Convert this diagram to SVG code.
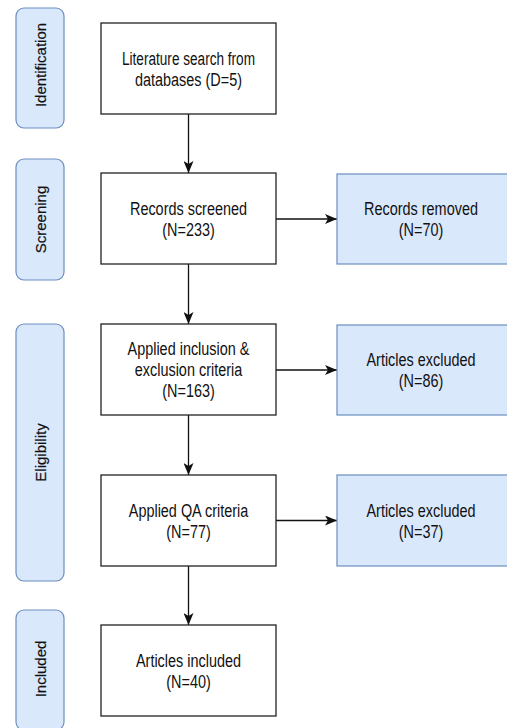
<svg xmlns="http://www.w3.org/2000/svg" width="507" height="728" viewBox="0 0 507 728">
<style>
.lane{fill:#dae8fc;stroke:#6c8ebf;stroke-width:1.2}
.box{fill:#ffffff;stroke:#222222;stroke-width:1.3}
.rbox{fill:#dae8fc;stroke:#6c8ebf;stroke-width:1.2}
.t{font-family:"Liberation Sans",Arial,sans-serif;font-size:19px;fill:#111111;text-anchor:middle}
.lt{font-family:"Liberation Sans",Arial,sans-serif;font-size:15px;fill:#111111;text-anchor:middle;stroke:#111111;stroke-width:0.2}
.c{stroke:#111111;stroke-width:1.3;fill:none;marker-end:url(#arr)}
</style>
<defs>
<marker id="arr" markerUnits="userSpaceOnUse" viewBox="0 0 12 10" refX="12" refY="5" markerWidth="12" markerHeight="10" orient="auto">
<path d="M0,0 L12,5 L0,10 L3,5 Z" fill="#111111"/>
</marker>
</defs>
<rect width="507" height="728" fill="#ffffff"/>
<g id="lane-identification">
<rect class="lane" x="16" y="8" width="48" height="120" rx="8"/>
<text class="lt" transform="translate(40 65) rotate(-90)" y="5.5">Identification</text>
</g>
<g id="lane-screening">
<rect class="lane" x="16" y="159" width="48" height="121" rx="8"/>
<text class="lt" transform="translate(40 219.5) rotate(-90)" y="5.5">Screening</text>
</g>
<g id="lane-eligibility">
<rect class="lane" x="16" y="324" width="48" height="257" rx="8"/>
<text class="lt" transform="translate(40 452.5) rotate(-90)" y="5.5">Eligibility</text>
</g>
<g id="lane-included">
<rect class="lane" x="16" y="610" width="48" height="120" rx="8"/>
<text class="lt" transform="translate(40 669) rotate(-90)" y="5.5">Included</text>
</g>
<g id="connectors">
<path class="c" d="M188.5,114 L188.5,173"/>
<path class="c" d="M188.5,264 L188.5,324"/>
<path class="c" d="M188.5,415 L188.5,475"/>
<path class="c" d="M188.5,566 L188.5,625"/>
<path class="c" d="M276,219 L337,219"/>
<path class="c" d="M276,370 L337,370"/>
<path class="c" d="M276,520.5 L337,520.5"/>
</g>
<g id="n1">
<rect class="box" x="101" y="23" width="175" height="91"/>
<text class="t" transform="translate(188.5 0) scale(0.76 1)"><tspan x="0" y="65" textLength="175" lengthAdjust="spacingAndGlyphs">Literature search from</tspan><tspan x="0" y="86">databases (D=5)</tspan></text>
</g>
<g id="n2">
<rect class="box" x="101" y="173" width="175" height="91"/>
<text class="t" transform="translate(188.5 0) scale(0.76 1)"><tspan x="0" y="215">Records screened</tspan><tspan x="0" y="236">(N=233)</tspan></text>
</g>
<g id="n3">
<rect class="box" x="101" y="324" width="175" height="91"/>
<text class="t" transform="translate(188.5 0) scale(0.76 1)"><tspan x="0" y="355.5">Applied inclusion &amp;</tspan><tspan x="0" y="376.5">exclusion criteria</tspan><tspan x="0" y="397.5">(N=163)</tspan></text>
</g>
<g id="n4">
<rect class="box" x="101" y="475" width="175" height="91"/>
<text class="t" transform="translate(188.5 0) scale(0.76 1)"><tspan x="0" y="517">Applied QA criteria</tspan><tspan x="0" y="538">(N=77)</tspan></text>
</g>
<g id="n5">
<rect class="box" x="101" y="625" width="175" height="91"/>
<text class="t" transform="translate(188.5 0) scale(0.76 1)"><tspan x="0" y="667">Articles included</tspan><tspan x="0" y="688">(N=40)</tspan></text>
</g>
<g id="r1">
<rect class="rbox" x="337" y="174" width="172" height="90"/>
<text class="t" transform="translate(421 0) scale(0.76 1)"><tspan x="0" y="215">Records removed</tspan><tspan x="0" y="236">(N=70)</tspan></text>
</g>
<g id="r2">
<rect class="rbox" x="337" y="325" width="172" height="90"/>
<text class="t" transform="translate(421 0) scale(0.76 1)"><tspan x="0" y="366">Articles excluded</tspan><tspan x="0" y="387">(N=86)</tspan></text>
</g>
<g id="r3">
<rect class="rbox" x="337" y="475" width="172" height="91"/>
<text class="t" transform="translate(421 0) scale(0.76 1)"><tspan x="0" y="517">Articles excluded</tspan><tspan x="0" y="538">(N=37)</tspan></text>
</g>
</svg>
